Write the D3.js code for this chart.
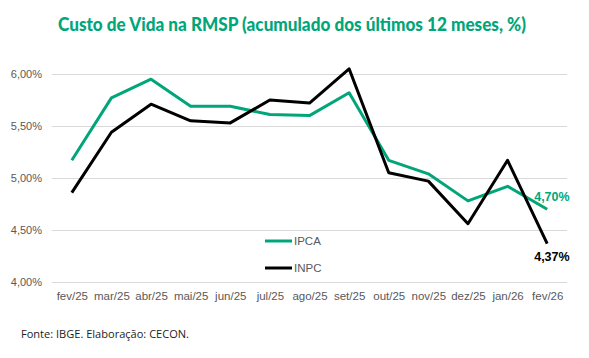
<!DOCTYPE html>
<html><head><meta charset="utf-8">
<script src="https://cdn.jsdelivr.net/npm/d3@7"></script>
<style>body{margin:0;background:#fff}svg{display:block}</style>
</head><body>
<svg id="c" width="589" height="358"></svg>
<script>
const categories = ["fev/25","mar/25","abr/25","mai/25","jun/25","jul/25","ago/25","set/25","out/25","nov/25","dez/25","jan/26","fev/26"];
const ipca = [5.17,5.77,5.95,5.69,5.69,5.61,5.60,5.82,5.17,5.04,4.78,4.92,4.70];
const inpc = [4.86,5.44,5.71,5.55,5.53,5.75,5.72,6.05,5.05,4.97,4.56,5.17,4.37];
const yTicks = [4.0,4.5,5.0,5.5,6.0];
const seriesNames = ["IPCA","INPC"];
const title = "Custo de Vida na RMSP (acumulado dos últimos 12 meses, %)";
const source = "Fonte: IBGE. Elaboração: CECON.";

const green = "#00a67a", black = "#000";
const svg = d3.select("#c");
const fmt = v => v.toFixed(2).replace(".", ",") + "%";

const x = d3.scalePoint().domain(categories).range([52, 567]).padding(0.5);
const y = d3.scaleLinear().domain([4, 6]).range([282, 74]);

svg.append("text").attr("x", 58).attr("y", 30.5)
  .attr("font-family", "Lato").attr("font-weight", 900).attr("font-size", 19)
  .attr("textLength", 468).attr("lengthAdjust", "spacingAndGlyphs")
  .attr("fill", green).text(title);

const yAxis = d3.axisLeft(y).tickValues(yTicks).tickFormat(fmt).tickSize(-(567-52)).tickPadding(10);
const gy = svg.append("g").attr("transform", "translate(52,0)").call(yAxis);
gy.select(".domain").remove();
gy.selectAll(".tick line").attr("stroke", "#d9d9d9").attr("stroke-width", 1);
gy.selectAll(".tick text").attr("fill", "#595959").attr("font-family", "Liberation Sans").attr("font-size", 11);

const xAxis = d3.axisBottom(x).tickSize(0).tickPadding(10);
const gx = svg.append("g").attr("transform", "translate(0,282)").call(xAxis);
gx.select(".domain").remove();
gx.selectAll(".tick text").attr("fill", "#595959").attr("font-family", "Liberation Sans Narrow, Liberation Sans").attr("font-size", 11.5);

const line = d3.line().x((d, i) => x(categories[i])).y(d => y(d));
svg.append("path").datum(ipca).attr("d", line).attr("fill", "none").attr("stroke", green).attr("stroke-width", 3).attr("stroke-linejoin", "round");
svg.append("path").datum(inpc).attr("d", line).attr("fill", "none").attr("stroke", black).attr("stroke-width", 3).attr("stroke-linejoin", "round");

// legend
[[seriesNames[0], green, 241], [seriesNames[1], black, 268]].forEach(([n, c, ly]) => {
  svg.append("line").attr("x1", 265).attr("x2", 292).attr("y1", ly).attr("y2", ly).attr("stroke", c).attr("stroke-width", 3);
  svg.append("text").attr("x", 294).attr("y", ly + 4).attr("font-family", "Liberation Sans").attr("font-size", 11.5).attr("fill", "#595959").text(n);
});

// end labels
const last = categories.length - 1;
svg.append("text").attr("x", x(categories[last]) - 13).attr("y", y(ipca[last]) - 8)
  .attr("font-family", "Liberation Sans").attr("font-weight", "bold").attr("font-size", 12.5).attr("fill", green).text(fmt(ipca[last]));
svg.append("text").attr("x", x(categories[last]) - 13).attr("y", y(inpc[last]) + 17)
  .attr("font-family", "Liberation Sans").attr("font-weight", "bold").attr("font-size", 12.5).attr("fill", black).text(fmt(inpc[last]));

svg.append("text").attr("x", 21).attr("y", 337.5).attr("font-family", "Open Sans").attr("font-size", 10.5)
  .attr("textLength", 168).attr("lengthAdjust", "spacingAndGlyphs").attr("fill", "#222").text(source);
</script>
</body></html>
